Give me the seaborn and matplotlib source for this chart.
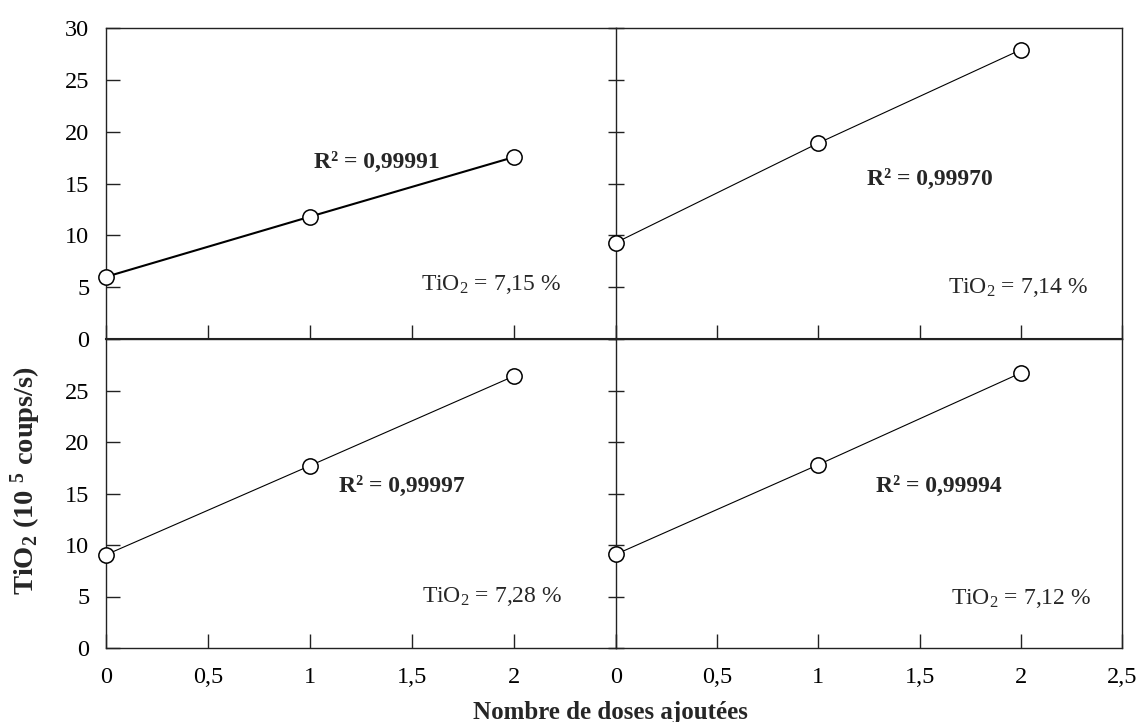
import numpy as np
import pandas as pd
import matplotlib
matplotlib.use('Agg')
import matplotlib.pyplot as plt
import seaborn as sns

# data
doses = [0, 1, 2]
tio2_tl = [6.0, 11.8, 17.55]
tio2_tr = [9.3, 18.9, 27.9]
tio2_bl = [9.05, 17.7, 26.4]
tio2_br = [9.1, 17.8, 26.7]

r2_labels = ['0,99991', '0,99970', '0,99997', '0,99994']
tio2_pct = ['7,15', '7,14', '7,28', '7,12']

x_ticks = [0, 0.5, 1, 1.5, 2, 2.5]
x_ticklabels = ['0', '0,5', '1', '1,5', '2', '2,5']
y_ticks = [0, 5, 10, 15, 20, 25, 30]
y_ticklabels = ['0', '5', '10', '15', '20', '25', '30']

sns.set_style('ticks')
plt.rcParams['font.family'] = ['Liberation Serif', 'DejaVu Serif']
plt.rcParams['mathtext.fontset'] = 'custom'
plt.rcParams['mathtext.rm'] = 'Liberation Serif'
plt.rcParams['mathtext.it'] = 'Liberation Serif:italic'
plt.rcParams['mathtext.bf'] = 'Liberation Serif:bold'

fig = plt.figure(figsize=(11.4, 7.22), dpi=100)

L, M, R = 106/1140, 616/1140, 1122/1140
T, Mid, B = 1-28/722, 1-339/722, 1-648/722

ax_tl = fig.add_axes([L, Mid, M-L, T-Mid])
ax_bl = fig.add_axes([L, B, M-L, Mid-B])
ax_tr = fig.add_axes([M, Mid, R-M, T-Mid])
ax_br = fig.add_axes([M, B, R-M, Mid-B])

panels = [(ax_tl, tio2_tl, 1.5), (ax_tr, tio2_tr, 0.8),
          (ax_bl, tio2_bl, 0.8), (ax_br, tio2_br, 0.8)]

# text positions (axes fraction)
r2_pos = [(0.531, 0.55), (0.62, 0.495), (0.58, 0.505), (0.638, 0.505)]
pct_pos = [(0.755, 0.158), (0.795, 0.148), (0.757, 0.149), (0.80, 0.142)]

spine_col = '#222222'

for k, (ax, vals, lw) in enumerate(panels):
	sns.lineplot(x=doses, y=vals, ax=ax, color='black', linewidth=lw,
		marker='o', markersize=11, markerfacecolor='white',
		markeredgecolor='black', markeredgewidth=1.1, clip_on=False, zorder=5)
	ax.set_xlim(0, 2.5)
	ax.set_ylim(0, 30)
	ax.set_xticks(x_ticks)
	ax.set_yticks(y_ticks)
	ax.set_xlabel('')
	ax.set_ylabel('')
	for s in ax.spines.values():
		s.set_color(spine_col)
		s.set_linewidth(1.0)
	ax.tick_params(axis='x', direction='in', length=10, width=1, pad=14,
		labelsize=17.5, colors=spine_col, labelcolor='black')

	ax.text(r2_pos[k][0], r2_pos[k][1], 'R² = ' + r2_labels[k], transform=ax.transAxes,
		ha='center', va='baseline', fontsize=17, fontweight='bold')
	ax.text(pct_pos[k][0], pct_pos[k][1], 'TiO$_2$ = ' + tio2_pct[k] + ' %', transform=ax.transAxes,
		ha='center', va='baseline', fontsize=17)

# left panels
for ax in (ax_tl, ax_bl):
	ax.spines['right'].set_visible(False)
	ax.tick_params(axis='y', direction='in', length=10, width=1, pad=12,
		labelsize=17.5, colors=spine_col, labelcolor='black')
ax_tl.set_yticklabels(y_ticklabels)
ax_bl.set_yticklabels(y_ticklabels[:-1] + [''])

# right panels
for ax in (ax_tr, ax_br):
	ax.tick_params(axis='y', direction='inout', length=12, width=1,
		labelleft=False, colors=spine_col)

# x labels only on the bottom row
ax_tl.tick_params(axis='x', labelbottom=False)
ax_tr.tick_params(axis='x', labelbottom=False)
ax_bl.set_xticklabels(x_ticklabels[:-1] + [''])
ax_br.set_xticklabels(x_ticklabels)

# thick line between rows
ax_tl.spines['bottom'].set_linewidth(1.5)
ax_tr.spines['bottom'].set_linewidth(1.5)
ax_tr.spines['bottom'].set_zorder(3)

fig.text(610/1140, 0.004, 'Nombre de doses ajoutées', ha='center', va='baseline',
	fontsize=18, fontweight='bold')
fig.text(26/1140, 1-481/722, r'TiO$_\mathbf{2}$ (10 $^\mathbf{5}$ coups/s)', rotation=90,
	ha='center', va='center', fontsize=20.5, fontweight='bold')

plt.savefig('out.png', dpi=100)
